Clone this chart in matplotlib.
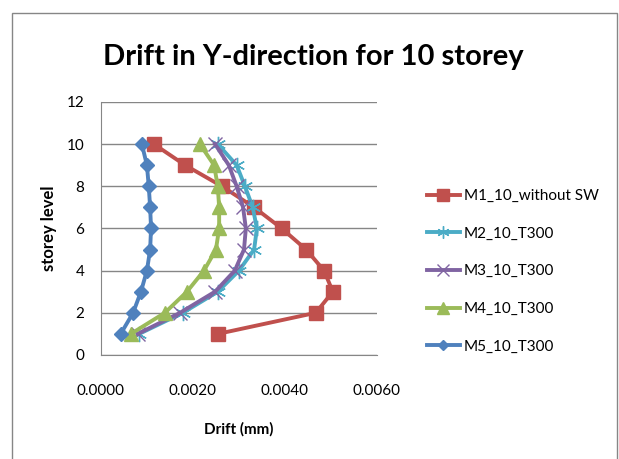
import matplotlib
matplotlib.use("Agg")
from matplotlib import pyplot as plt
from matplotlib.patches import Rectangle

# storey levels and drift values
storey = [10, 9, 8, 7, 6, 5, 4, 3, 2, 1]
m1 = [0.00115, 0.00183, 0.00263, 0.00333, 0.00393, 0.00446, 0.00485, 0.00504, 0.00467, 0.00254]
m2 = [0.00254, 0.00295, 0.00313, 0.00330, 0.00339, 0.00333, 0.00300, 0.00254, 0.00178, 0.00083]
m3 = [0.00248, 0.00278, 0.00295, 0.00309, 0.00315, 0.00311, 0.00291, 0.00248, 0.00172, 0.00080]
m4 = [0.00215, 0.00246, 0.00254, 0.00257, 0.00257, 0.00250, 0.00224, 0.00187, 0.00139, 0.00065]
m5 = [0.00089, 0.00100, 0.00104, 0.00107, 0.00109, 0.00107, 0.00100, 0.00087, 0.00070, 0.00043]
labels = ["M1_10_without SW", "M2_10_T300", "M3_10_T300", "M4_10_T300", "M5_10_T300"]
x_ticks = [0.0, 0.002, 0.004, 0.006]
y_ticks = [0, 2, 4, 6, 8, 10, 12]

plt.rcParams['font.family'] = ['Lato', 'DejaVu Sans']

fig = plt.figure(figsize=(6.19, 4.59), dpi=100)
# outer chart border
fig.patches.append(Rectangle((12 / 619, -0.1), 605 / 619, 1 - 13 / 459 + 0.1,
                             transform=fig.transFigure, fill=False,
                             edgecolor="#868686", linewidth=1.0))

ax = fig.add_axes([0.163, 0.2266, 0.446, 0.5514])

styles = [
    (m1, "#C0504D", "s", 10),
    (m2, "#4BACC6", (6, 2, 0), 11),
    (m3, "#8064A2", "x", 10),
    (m4, "#9BBB59", "^", 10),
    (m5, "#4F81BD", "D", 7),
]
for (vals, col, mk, ms), lab in zip(styles, labels):
    ax.plot(vals, storey, color=col, marker=mk, markersize=ms, linewidth=2.8,
            markeredgecolor=col, markerfacecolor=col, markeredgewidth=1.0, label=lab)

ax.set_xlim(0, 0.006)
ax.set_ylim(0, 12)
ax.set_xticks(x_ticks)
ax.set_yticks(y_ticks)
ax.set_xticklabels(["%.4f" % v for v in x_ticks])
ax.yaxis.grid(True, color="#868686", linewidth=1.0)
ax.set_axisbelow(True)
for s in ["top", "right"]:
    ax.spines[s].set_visible(False)
for s in ["left", "bottom"]:
    ax.spines[s].set_color("#868686")
ax.tick_params(axis="both", labelsize=11, length=0)
ax.tick_params(axis="x", pad=21)
ax.tick_params(axis="y", pad=12)

ax.set_xlabel("Drift (mm)", fontsize=11, fontweight="bold", labelpad=17)
ax.set_ylabel("storey level", fontsize=12, fontweight="bold", labelpad=7)

fig.text(0.506, 0.876, "Drift in Y-direction for 10 storey", ha="center", va="center",
         fontsize=21, fontweight="bold")

ax.legend(loc="upper left", bbox_to_anchor=(427 / 619, 1 - 189 / 459),
          bbox_transform=fig.transFigure, frameon=False, borderpad=0, borderaxespad=0,
          fontsize=11, labelspacing=1.55, handlelength=2.15, handletextpad=0.25,
          markerscale=0.8)

fig.savefig("out.png", dpi=100)
